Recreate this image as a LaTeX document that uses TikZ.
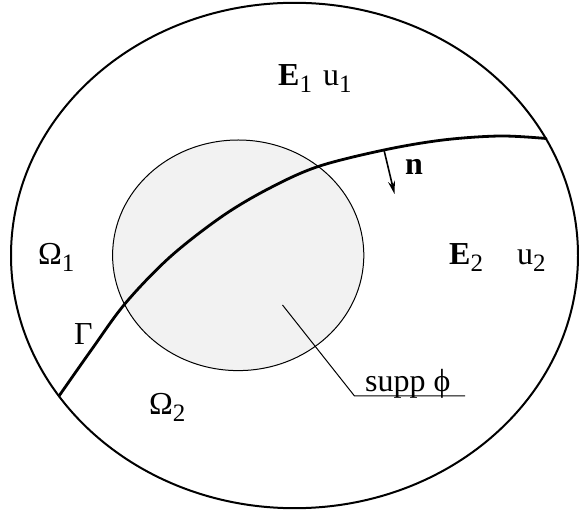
\documentclass[tikz,border=0pt]{standalone}
\usepackage{fontspec}
\setmainfont{Liberation Serif}
\usetikzlibrary{arrows.meta}
\newcommand{\lowsub}[1]{\raisebox{-7pt}{\mdseries\fontsize{25}{25}\selectfont #1}}
\definecolor{suppgray}{RGB}{242,242,242}
\begin{document}
\begin{tikzpicture}[x=1pt,y=-1pt,
  lbl/.style={anchor=base west, inner sep=0pt, font=\fontsize{32}{32}\selectfont},
  outerline/.style={line width=2pt},
  interface/.style={line width=2.8pt, line cap=round},
  suppline/.style={line width=1pt, fill=suppgray},
  leader/.style={line width=1pt},
  normalarrow/.style={line width=1.6pt, -{Stealth[length=13pt,width=7pt]}}]
\useasboundingbox (0,0) rectangle (579,510);
% support of phi
\draw[suppline] (238.2,255.3) ellipse [x radius=125.6, y radius=115.3];
% outer domain
\draw[outerline] (294.5,255.5) ellipse [x radius=283.5, y radius=252.7];
% interface Gamma
\draw[interface] plot[smooth, tension=0.55] coordinates {(59,396) (92,349) (125.6,303) (170,257) (221.6,216.7) (268,189) (317.6,166.7) (384,150) (443,140) (500,136) (546,138.5)};
% normal
\coordinate (nstart) at (384,150);
\coordinate (nend) at (394.5,194);
\draw[normalarrow] (nstart) -- (nend);
% leader for supp phi
\coordinate (ls) at (282.5,305);
\coordinate (lk) at (354.5,396);
\coordinate (le) at (465,396);
\draw[leader] (ls) -- (lk) -- (le);
% labels
\node[lbl] (E1) at (278,86) {\bfseries E\lowsub{1}};
\node[lbl] (u1) at (323,86) {u\lowsub{1}};
\node[lbl] (E2) at (449,265) {\bfseries E\lowsub{2}};
\node[lbl] (u2) at (517,265) {u\lowsub{2}};
\node[lbl] (O1) at (38,265) {Ω\lowsub{1}};
\node[lbl] (O2) at (149,415) {Ω\lowsub{2}};
\node[lbl] (G) at (74,345) {Γ};
\node[lbl] (n) at (405,175) {\bfseries n};
\node[lbl] (supp) at (365,392) {supp ϕ};
\end{tikzpicture}
\end{document}
